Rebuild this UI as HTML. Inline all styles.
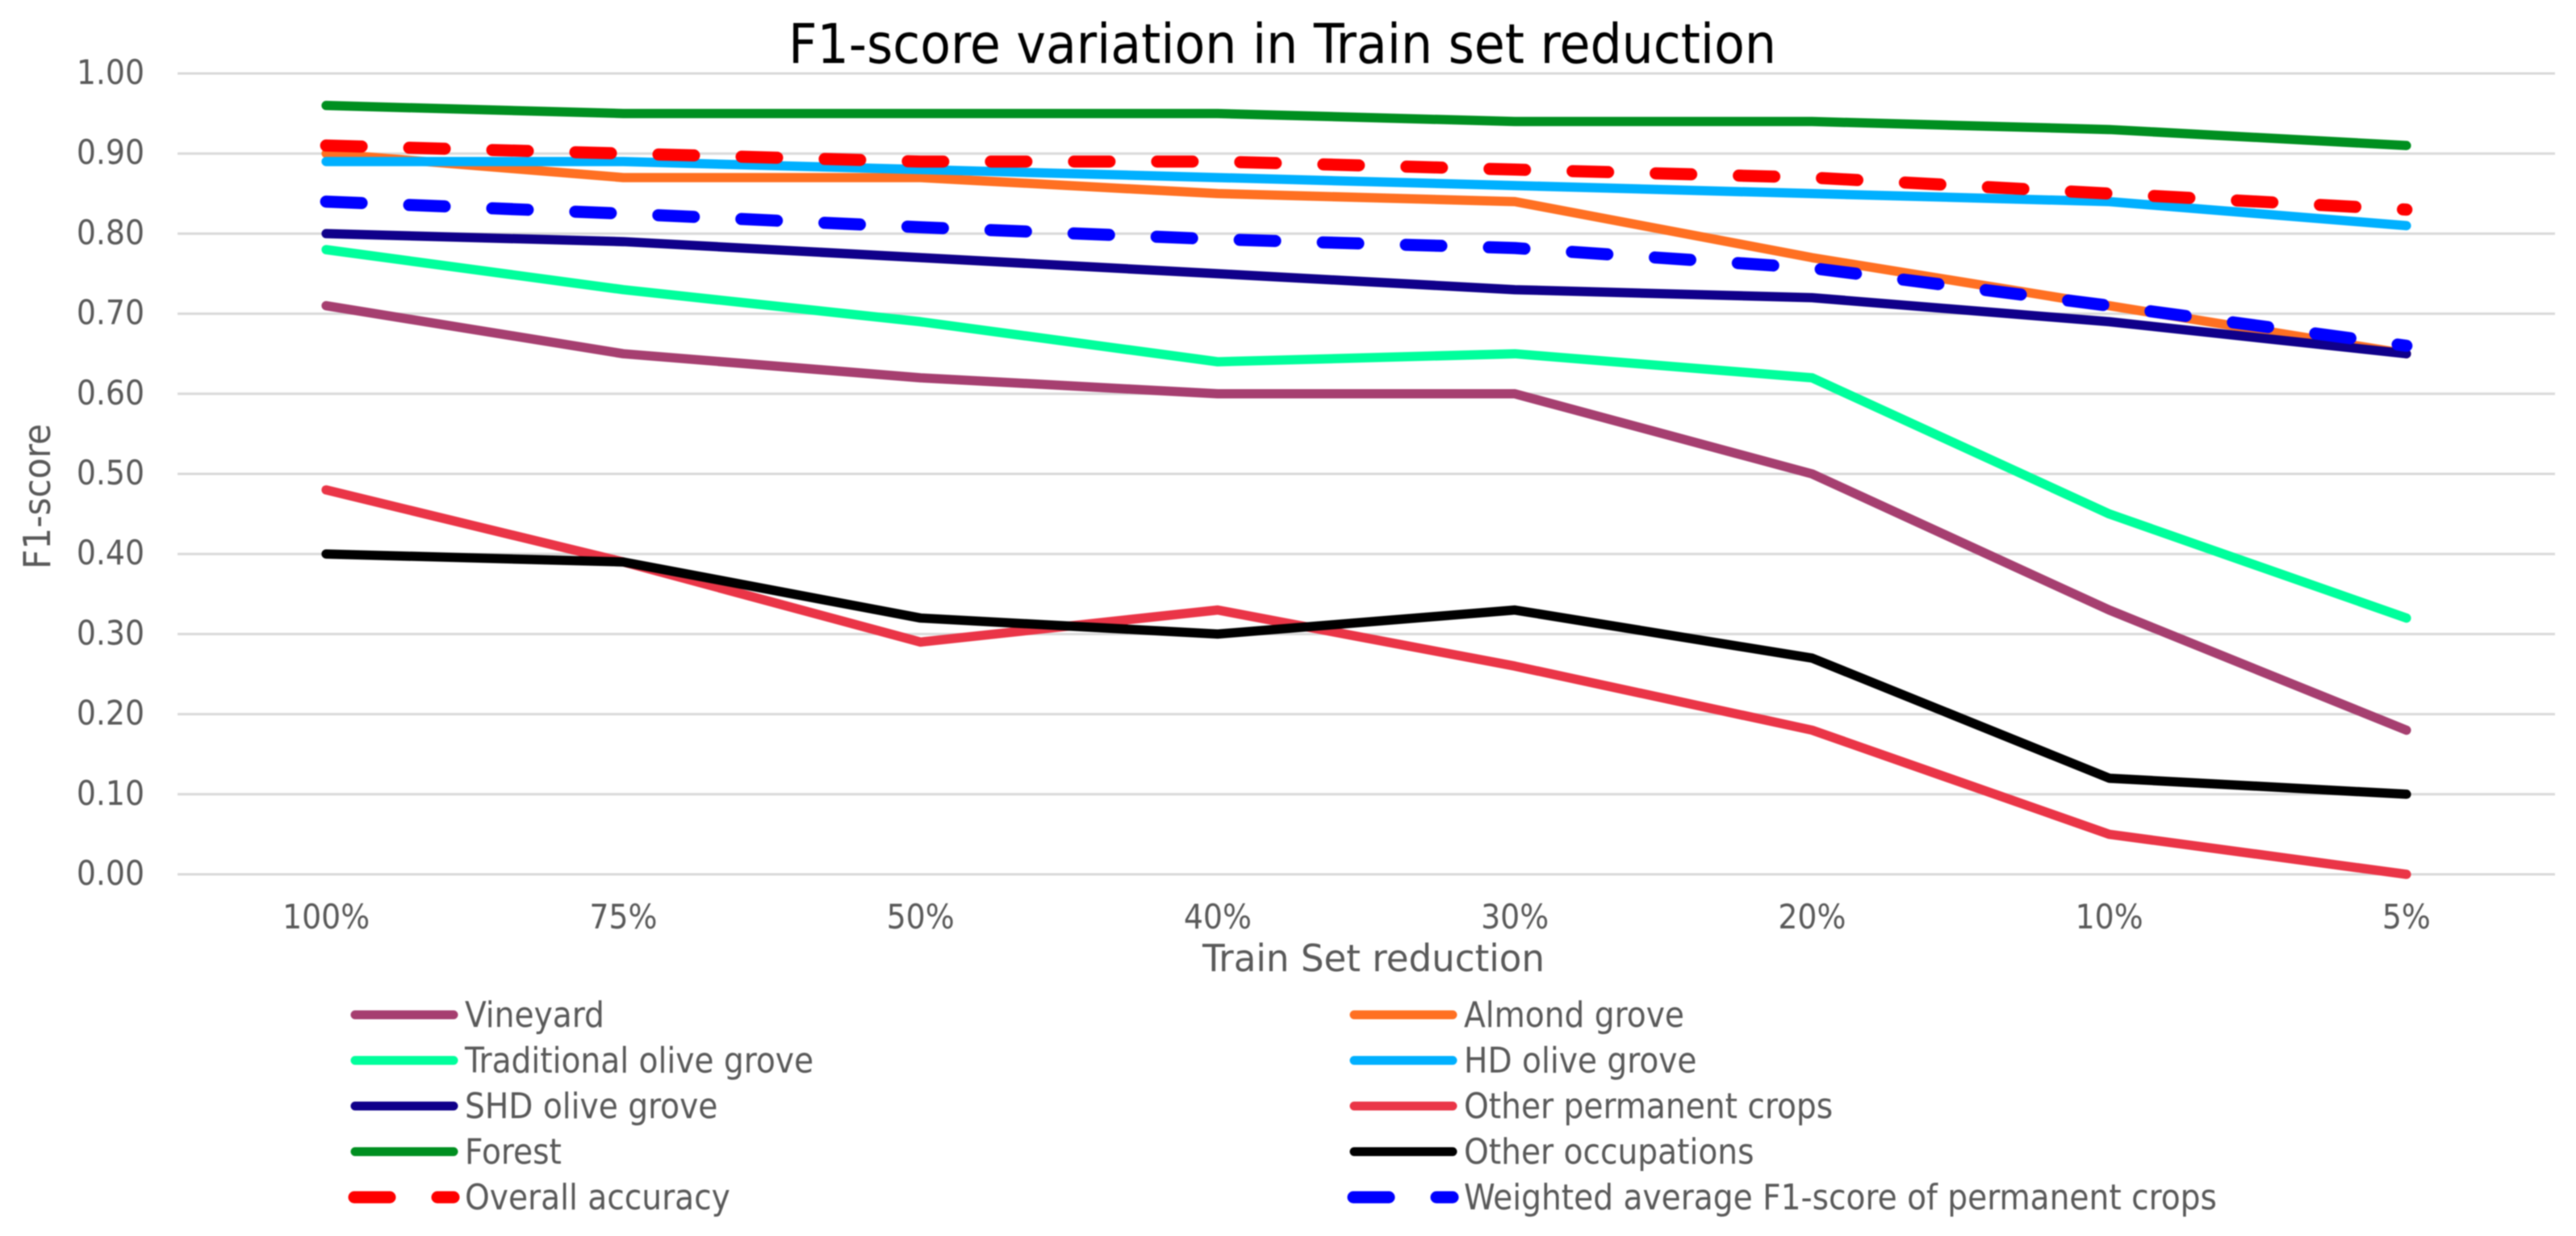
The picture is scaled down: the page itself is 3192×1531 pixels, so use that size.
<!DOCTYPE html>
<html lang="en">
<head>
<meta charset="utf-8">
<title>F1-score variation in Train set reduction</title>
<style>
html,body{margin:0;padding:0;background:#fff;}
svg{display:block;filter:blur(0.7px);}
text{font-family:"DejaVu Sans Condensed","DejaVu Sans","Liberation Sans",sans-serif;font-stretch:condensed;fill:#595959;}
</style>
</head>
<body>
<svg id="chart" xmlns="http://www.w3.org/2000/svg" width="3192" height="1531" viewBox="0 0 3192 1531">
<rect x="0" y="0" width="3192" height="1531" fill="#ffffff"/>
<g id="grid"></g>
<g id="yticks"></g>
<g id="xticks"></g>
<g id="series"></g>
<g id="legend"></g>
<text x="977" y="78" font-size="68" textLength="1224" lengthAdjust="spacingAndGlyphs" style="fill:#000">F1-score variation in Train set reduction</text>
<text x="1490" y="1203" font-size="46" textLength="424" lengthAdjust="spacingAndGlyphs">Train Set reduction</text>
<text transform="translate(62,705) rotate(-90)" x="0" y="0" font-size="46" textLength="180" lengthAdjust="spacingAndGlyphs">F1-score</text>
</svg>
<script>
const categories = ["100%","75%","50%","40%","30%","20%","10%","5%"];
const yTickValues = [0,0.1,0.2,0.3,0.4,0.5,0.6,0.7,0.8,0.9,1];
const seriesNames = ["Vineyard","Almond grove","Traditional olive grove","HD olive grove","SHD olive grove","Other permanent crops","Forest","Other occupations","Overall accuracy","Weighted average F1-score of permanent crops"];
const vineyard = [0.71,0.65,0.62,0.60,0.60,0.50,0.33,0.18];
const almondGrove = [0.90,0.87,0.87,0.85,0.84,0.77,0.71,0.65];
const traditionalOlive = [0.78,0.73,0.69,0.64,0.65,0.62,0.45,0.32];
const hdOlive = [0.89,0.89,0.88,0.87,0.86,0.85,0.84,0.81];
const shdOlive = [0.80,0.79,0.77,0.75,0.73,0.72,0.69,0.65];
const otherPermanent = [0.48,0.39,0.29,0.33,0.26,0.18,0.05,0.00];
const forest = [0.96,0.95,0.95,0.95,0.94,0.94,0.93,0.91];
const otherOccupations = [0.40,0.39,0.32,0.30,0.33,0.27,0.12,0.10];
const overallAccuracy = [0.91,0.90,0.89,0.89,0.88,0.87,0.85,0.83];
const weightedAverage = [0.84,0.825,0.808,0.793,0.782,0.757,0.71,0.66];

const seriesValues = [vineyard,almondGrove,traditionalOlive,hdOlive,shdOlive,otherPermanent,forest,otherOccupations,overallAccuracy,weightedAverage];
const colors = ["#A63F70","#FF7022","#00FF9C","#00B0FF","#10008A","#EA3547","#008F20","#000000","#FF0000","#0000FF"];

const NS = "http://www.w3.org/2000/svg";
const plotLeft = 220, plotRight = 3166, plotTop = 91, plotBottom = 1083;
const xStep = (plotRight - plotLeft) / categories.length;
function xScale(i){ return plotLeft + xStep * (i + 0.5); }
function yScale(v){ return plotBottom - (plotBottom - plotTop) * v; }
function slug(s){ return s.toLowerCase().replace(/[^a-z0-9]+/g,'-'); }
function mk(tag, parent){ const e = document.createElementNS(NS, tag); parent.appendChild(e); return e; }

const gridG = document.getElementById('grid');
const yG = document.getElementById('yticks');
yTickValues.forEach(function(v){
  const l = mk('line', gridG);
  
  
  l.setAttribute('x1', plotLeft); l.setAttribute('x2', plotRight);
  l.setAttribute('y1', yScale(v)); l.setAttribute('y2', yScale(v));
  l.setAttribute('stroke', '#D9D9D9'); l.setAttribute('stroke-width', '3');
  const t = mk('text', yG);
  
  
  t.setAttribute('x', 179); t.setAttribute('y', yScale(v) + 13);
  t.setAttribute('text-anchor', 'end'); t.setAttribute('font-size', '42');
  t.textContent = v.toFixed(2);
});

const xG = document.getElementById('xticks');
categories.forEach(function(c, i){
  const t = mk('text', xG);
  
  
  t.setAttribute('x', xScale(i)); t.setAttribute('y', 1150);
  t.setAttribute('text-anchor', 'middle'); t.setAttribute('font-size', '42');
  t.textContent = c;
});

const sG = document.getElementById('series');
seriesValues.forEach(function(vals, k){
  const p = mk('polyline', sG);
  
  
  p.setAttribute('points', vals.map(function(v, i){ return xScale(i) + ',' + yScale(v); }).join(' '));
  p.setAttribute('fill', 'none');
  p.setAttribute('stroke', colors[k]);
  p.setAttribute('stroke-linecap', 'round');
  p.setAttribute('stroke-linejoin', 'round');
  if (k >= 8) {
    p.setAttribute('stroke-width', '15');
    p.setAttribute('stroke-dasharray', '44 59');
  } else {
    p.setAttribute('stroke-width', '11.5');
  }
});

const lG = document.getElementById('legend');
seriesNames.forEach(function(name, k){
  const col = k % 2, row = Math.floor(k / 2);
  const y = 1257 + row * 56.5;
  const x1 = col ? 1678 : 440;
  const x2 = col ? 1800 : 562;
  const tx = col ? 1814 : 576;
  const s = mk('line', lG);
  
  
  s.setAttribute('y1', y); s.setAttribute('y2', y);
  s.setAttribute('stroke', colors[k]);
  s.setAttribute('stroke-linecap', 'round');
  if (k >= 8) {
    s.setAttribute('x1', x1 - 1); s.setAttribute('x2', x2);
    s.setAttribute('stroke-width', '15');
    s.setAttribute('stroke-dasharray', '44 59');
  } else {
    s.setAttribute('x1', x1); s.setAttribute('x2', x2);
    s.setAttribute('stroke-width', '11');
  }
  const t = mk('text', lG);
  
  
  t.setAttribute('x', tx); t.setAttribute('y', y + 15);
  t.setAttribute('font-size', '43.5');
  t.textContent = name;
});
</script>
</body>
</html>
